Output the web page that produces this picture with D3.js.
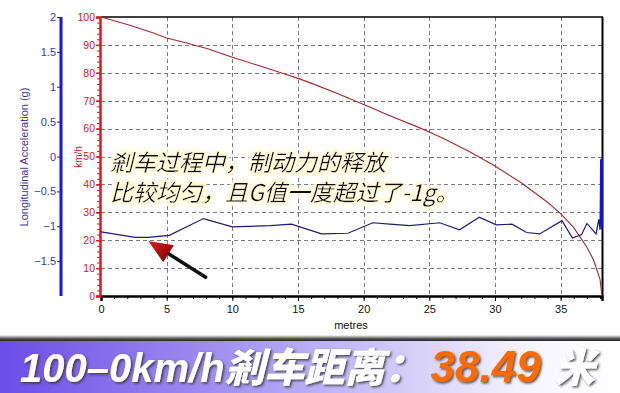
<!DOCTYPE html>
<html>
<head>
<meta charset="utf-8">
<script src="https://cdn.jsdelivr.net/npm/d3@7"></script>
<style>
  body { margin: 0; background: #fff; }
  svg { display: block; font-family: "Liberation Sans", Arial, sans-serif; }
</style>
</head>
<body>
<svg id="chart" width="620" height="393"></svg>
<script>
// speed trace (km/h vs metres)
var speedDist = [0, 2, 4, 5, 6, 8, 10, 12, 14, 15, 16, 18, 20, 22, 24, 25, 26, 28, 30, 32, 34, 35, 36, 37, 37.5, 38, 38.15];
var speedVal  = [100, 97.3, 94.3, 92.5, 91.3, 88.8, 85.6, 82.6, 79.6, 78, 76.3, 72.6, 68.6, 64.6, 60.8, 58.8, 56.6, 51.9, 46.6, 40.6, 33.6, 29.5, 24.5, 17.5, 13, 6, 0];

// longitudinal acceleration (g vs metres)
var accDist = [0, 2.6, 3.6, 5.2, 7.8, 10.0, 12.9, 14.5, 16.8, 18.8, 20.7, 22, 23.5, 25.8, 27.3, 28.8, 30.1, 31.3, 32.4, 33.4, 35.1, 35.9, 36.6, 37.0, 37.7, 37.9, 38.0, 38.05, 38.1, 38.12];
var accVal  = [-1.08, -1.16, -1.16, -1.13, -0.89, -1.01, -0.99, -0.97, -1.11, -1.10, -0.95, -0.97, -0.99, -0.95, -1.05, -0.87, -0.98, -0.97, -1.09, -1.11, -0.92, -1.17, -1.12, -0.96, -1.11, -0.90, -1.05, -0.05, -1.0, -0.1];

var xTicks = [0, 5, 10, 15, 20, 25, 30, 35];
var speedTicks = [0, 10, 20, 30, 40, 50, 60, 70, 80, 90, 100];
var accTicks = [2, 1.5, 1, 0.5, 0, -0.5, -1, -1.5];

var svg = d3.select("#chart");
var pLeft = 101, pRight = 602, pTop = 17, pBottom = 296;

var x = d3.scaleLinear().domain([0, 38.15]).range([pLeft, pRight]);
var ySpeed = d3.scaleLinear().domain([0, 100]).range([pBottom, pTop]);
var yAcc = d3.scaleLinear().domain([-2, 2]).range([pBottom, pTop]);

// grid
var grid = svg.append("g")
    .attr("stroke", "#7a7a7a")
    .attr("stroke-dasharray", "4,3")
    .attr("stroke-width", 1);
grid.selectAll("line.gx")
    .data(xTicks.filter(d => d > 0))
    .enter().append("line")
    .attr("x1", d => Math.round(x(d)) + 0.5)
    .attr("x2", d => Math.round(x(d)) + 0.5)
    .attr("y1", pTop).attr("y2", pBottom);
grid.selectAll("line.gy")
    .data(speedTicks.filter(d => d > 0 && d < 100))
    .enter().append("line")
    .attr("x1", pLeft).attr("x2", pRight)
    .attr("y1", d => Math.round(ySpeed(d)) + 0.5)
    .attr("y2", d => Math.round(ySpeed(d)) + 0.5);

// frame
svg.append("line").attr("x1", pLeft).attr("x2", pRight + 1).attr("y1", pTop).attr("y2", pTop)
    .attr("stroke", "#000").attr("stroke-width", 1.5);
svg.append("line").attr("x1", pRight + 0.5).attr("x2", pRight + 0.5).attr("y1", pTop).attr("y2", pBottom)
    .attr("stroke", "#000").attr("stroke-width", 2);

// x axis
var xAxis = d3.axisBottom(x).tickValues(xTicks).tickSize(5).tickPadding(4);
var gx = svg.append("g").attr("transform", "translate(0," + pBottom + ")").call(xAxis);
gx.select(".domain").attr("stroke-width", 2.5);
gx.selectAll("text").attr("font-size", 11).attr("fill", "#111");
svg.append("g").attr("transform", "translate(0," + pBottom + ")")
    .call(d3.axisBottom(x).ticks(38).tickSize(3).tickFormat(""))
    .select(".domain").remove();
svg.append("text").attr("x", 351).attr("y", 329).attr("text-anchor", "middle")
    .attr("font-size", 11).attr("fill", "#111").text("metres");

// speed axis (red)
var speedAxis = d3.axisLeft(ySpeed).tickValues(speedTicks).tickSize(4).tickPadding(1);
var gs = svg.append("g").attr("transform", "translate(100,0)").call(speedAxis);
gs.select(".domain").attr("stroke", "#e01818").attr("stroke-width", 2.5);
gs.selectAll(".tick line").attr("stroke", "#e01818").attr("stroke-width", 1.5);
gs.selectAll("text").attr("font-size", 10.5).attr("fill", "#cc2020");
svg.append("g").attr("transform", "translate(100,0)")
    .call(d3.axisLeft(ySpeed).ticks(50).tickSize(3).tickFormat(""))
    .call(g => g.select(".domain").remove())
    .selectAll("line").attr("stroke", "#e01818");
svg.append("text").attr("transform", "translate(82,157) rotate(-90)")
    .attr("text-anchor", "middle").attr("font-size", 10).attr("fill", "#cc2020").text("km/h");

// acceleration axis (blue)
var accAxis = d3.axisLeft(yAcc).tickValues(accTicks).tickSize(4).tickPadding(1)
    .tickFormat(d3.format("~g"));
var ga = svg.append("g").attr("transform", "translate(61,0)").call(accAxis);
ga.select(".domain").attr("stroke", "#1818e0").attr("stroke-width", 3).attr("d", "M0," + pTop + "V" + pBottom);
ga.selectAll(".tick line").attr("stroke", "#1818e0");
ga.selectAll("text").attr("font-size", 11).attr("fill", "#3a3a98");
svg.append("text").attr("transform", "translate(28,157) rotate(-90)")
    .attr("text-anchor", "middle").attr("font-size", 11).attr("fill", "#3a3a98")
    .text("Longitudinal Acceleration (g)");

// series
var speedLine = d3.line().x((d, i) => x(speedDist[i])).y(d => ySpeed(d));
svg.append("path").datum(speedVal).attr("d", speedLine)
    .attr("fill", "none").attr("stroke", "#a82828").attr("stroke-width", 1.1);

var accLine = d3.line().x((d, i) => x(accDist[i])).y(d => yAcc(d));
svg.append("path").datum(accVal).attr("d", accLine)
    .attr("fill", "none").attr("stroke", "#1c1c78").attr("stroke-width", 1.2);
svg.append("line")
    .attr("x1", x(38.12)).attr("x2", x(38.12))
    .attr("y1", yAcc(-0.03)).attr("y2", yAcc(-1.04))
    .attr("stroke", "#1414e0").attr("stroke-width", 2.5);

// annotation
var defs = svg.append("defs");
var glow = defs.append("filter").attr("id", "glow").attr("x", "-10%").attr("y", "-40%").attr("width", "120%").attr("height", "180%");
glow.append("feMorphology").attr("in", "SourceAlpha").attr("operator", "dilate").attr("radius", 2.5).attr("result", "fat");
glow.append("feGaussianBlur").attr("in", "fat").attr("stdDeviation", 1.5).attr("result", "soft");
glow.append("feFlood").attr("flood-color", "#fffbdc").attr("result", "col");
glow.append("feComposite").attr("in", "col").attr("in2", "soft").attr("operator", "in").attr("result", "halo");
var gm = glow.append("feMerge");
gm.append("feMergeNode").attr("in", "halo");
gm.append("feMergeNode").attr("in", "SourceGraphic");

var grad = defs.append("linearGradient").attr("id", "arrowRed").attr("x1", "0").attr("y1", "0").attr("x2", "1").attr("y2", "1");
grad.append("stop").attr("offset", "0%").attr("stop-color", "#e02020");
grad.append("stop").attr("offset", "100%").attr("stop-color", "#700000");

var note = ["剎车过程中，制动力的释放", "比较均匀，且G值一度超过了-1g。"];
svg.append("text").attr("font-family", "'Noto Sans CJK SC', sans-serif")
    .attr("font-size", 23).attr("font-style", "italic")
    .attr("fill", "#111").attr("filter", "url(#glow)")
    .selectAll("tspan").data(note).enter().append("tspan")
    .attr("x", 110).attr("y", (d, i) => 171 + i * 30)
    .text(d => d);

// arrow
var tip = [x(3.6), yAcc(-1.21)], tail = [x(7.97), yAcc(-1.73)];
var ang = Math.atan2(tip[1] - tail[1], tip[0] - tail[0]);
var headLen = 24, headW = 10;
var bx = tip[0] - headLen * Math.cos(ang), by = tip[1] - headLen * Math.sin(ang);
svg.append("line").attr("x1", tail[0]).attr("y1", tail[1]).attr("x2", bx).attr("y2", by)
    .attr("stroke", "#111").attr("stroke-width", 3.5).attr("stroke-linecap", "round");
svg.append("path")
    .attr("d", "M" + tip[0] + "," + tip[1] +
        "L" + (bx + headW * Math.sin(ang)) + "," + (by - headW * Math.cos(ang)) +
        "L" + (bx - headW * Math.sin(ang)) + "," + (by + headW * Math.cos(ang)) + "Z")
    .attr("fill", "url(#arrowRed)");

// banner
var bgrad = defs.append("linearGradient").attr("id", "banner").attr("x1", "0").attr("x2", "1");
bgrad.append("stop").attr("offset", "0%").attr("stop-color", "#6a4de6");
bgrad.append("stop").attr("offset", "40%").attr("stop-color", "#a899f2");
bgrad.append("stop").attr("offset", "85%").attr("stop-color", "#f6f5fd");
bgrad.append("stop").attr("offset", "100%").attr("stop-color", "#ffffff");
var sgrad = defs.append("linearGradient").attr("id", "bannerTop").attr("x1", "0").attr("y1", "0").attr("x2", "0").attr("y2", "1");
sgrad.append("stop").attr("offset", "0%").attr("stop-color", "#ffffff");
sgrad.append("stop").attr("offset", "60%").attr("stop-color", "#555");
sgrad.append("stop").attr("offset", "100%").attr("stop-color", "#222");
svg.append("rect").attr("x", 0).attr("y", 335).attr("width", 620).attr("height", 6).attr("fill", "url(#bannerTop)");
svg.append("rect").attr("x", 0).attr("y", 341).attr("width", 620).attr("height", 52).attr("fill", "url(#banner)");

var shadow = defs.append("filter").attr("id", "shadow").attr("x", "-5%").attr("y", "-20%").attr("width", "110%").attr("height", "150%");
shadow.append("feDropShadow").attr("dx", 1.5).attr("dy", 1.5).attr("stdDeviation", 1.2).attr("flood-color", "#333").attr("flood-opacity", 0.85);

var title = svg.append("text").attr("x", 20).attr("y", 382)
    .attr("font-family", "'Liberation Sans', 'Noto Sans CJK SC', sans-serif")
    .attr("font-size", 40).attr("font-weight", 900).attr("font-style", "italic")
    .attr("filter", "url(#shadow)");
title.append("tspan").attr("fill", "#fff").text("100–0km/h剎车距离：");
title.append("tspan").attr("fill", "#ff6a00").attr("font-size", 44).attr("dx", 6).text("38.49");
title.append("tspan").attr("fill", "#fff").attr("dx", 14).text("米");
</script>
</body>
</html>
